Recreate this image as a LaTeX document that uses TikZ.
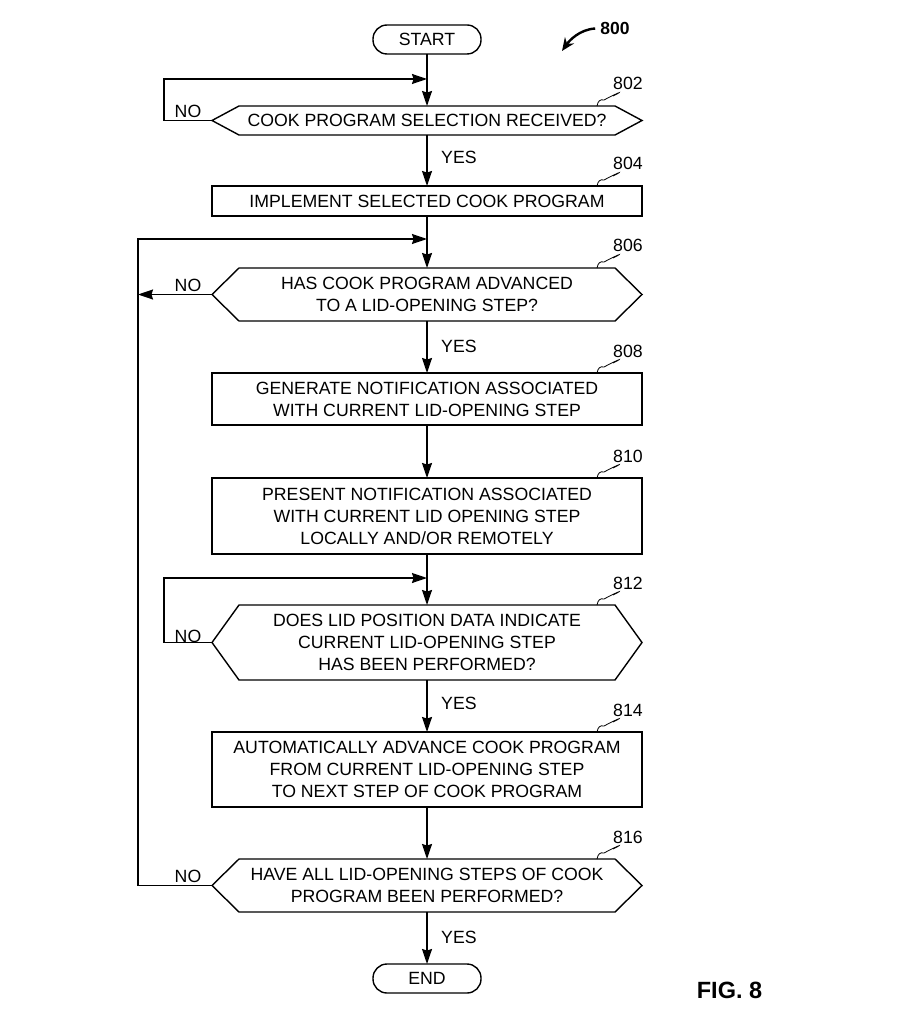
\documentclass[tikz,border=0pt]{standalone}
\usepackage{fontspec}
\setmainfont{Liberation Sans}
\usetikzlibrary{arrows.meta}
\tikzset{
  x=1pt, y=-1pt,
  lw/.style={line width=1.4pt},
  txt/.style={font=\fontsize{17.7}{22}\selectfont, align=center},
  tag/.style={font=\fontsize{17.7}{22}\selectfont, inner sep=0pt},
  procbox/.style={draw, lw, txt, minimum width=430pt, inner sep=0pt, outer sep=0pt},
  hexcore/.style={txt, minimum width=376pt, inner sep=0pt, outer sep=0pt},
  termbox/.style={draw, lw, txt, minimum width=108pt, minimum height=29pt, rounded corners=14pt, inner sep=0pt, outer sep=0pt},
  flow/.style={lw, -{Stealth[length=15pt,width=10pt,inset=1.5pt]}},
  leader/.style={line width=0.8pt},
}
\newcommand\hexdraw[1]{%
  \draw[lw] (#1.north west) -- (#1.north east) -- ([xshift=27pt]#1.east) -- (#1.south east) -- (#1.south west) -- ([xshift=-27pt]#1.west) -- cycle;
  \coordinate (#1L) at ([xshift=-27pt]#1.west);}
\begin{document}
\begin{tikzpicture}
\useasboundingbox[fill=white] (0,0) rectangle (915,1024);

% nodes
\node[termbox] (start) at (427,39.5) {START};
\node[hexcore, minimum height=29pt] (n802) at (427,120.5) {COOK PROGRAM SELECTION RECEIVED?};
\node[procbox, minimum height=30pt] (n804) at (427,201) {IMPLEMENT SELECTED COOK PROGRAM};
\node[hexcore, minimum height=53pt] (n806) at (427,294.5) {HAS COOK PROGRAM ADVANCED\\TO A LID-OPENING STEP?};
\node[procbox, minimum height=52pt] (n808) at (427,399) {GENERATE NOTIFICATION ASSOCIATED\\WITH CURRENT LID-OPENING STEP};
\node[procbox, minimum height=76pt] (n810) at (427,516) {PRESENT NOTIFICATION ASSOCIATED\\WITH CURRENT LID OPENING STEP\\LOCALLY AND/OR REMOTELY};
\node[hexcore, minimum height=75pt] (n812) at (427,642.5) {DOES LID POSITION DATA INDICATE\\CURRENT LID-OPENING STEP\\HAS BEEN PERFORMED?};
\node[procbox, minimum height=75pt] (n814) at (427,769.5) {AUTOMATICALLY ADVANCE COOK PROGRAM\\FROM CURRENT LID-OPENING STEP\\TO NEXT STEP OF COOK PROGRAM};
\node[hexcore, minimum height=53pt] (n816) at (427,885.5) {HAVE ALL LID-OPENING STEPS OF COOK\\PROGRAM BEEN PERFORMED?};
\node[termbox] (end) at (427,978.5) {END};

\hexdraw{n802}
\hexdraw{n806}
\hexdraw{n812}
\hexdraw{n816}

% reference numerals with leaders
\foreach \n in {n802,n804,n806,n808,n810,n812,n814,n816}{
  \draw[leader] ([xshift=170pt]\n.north) .. controls +(1,-5) and +(-4,-1) .. +(7,-6) .. controls +(11,-6) and +(14,-7) .. +(16,-10);
}
\node[tag] (l802) at (628,83) {802};
\node[tag] (l804) at (628,163) {804};
\node[tag] (l806) at (628,245) {806};
\node[tag] (l808) at (628,351) {808};
\node[tag] (l810) at (628,456) {810};
\node[tag] (l812) at (628,583) {812};
\node[tag] (l814) at (628,710) {814};
\node[tag] (l816) at (628,837) {816};

% join coordinates
\coordinate (j1) at (427,79);
\coordinate (j2) at (427,239);
\coordinate (j3) at (427,578);
\coordinate (c1a) at (164,120.5);
\coordinate (c1b) at (164,79);
\coordinate (c2a) at (138,885.5);
\coordinate (c2b) at (138,239);
\coordinate (c2m) at (138,294.5);
\coordinate (c3a) at (164,642.5);
\coordinate (c3b) at (164,578);

% connectors
\draw[flow] (start.south) -- (n802.north);
\draw[flow] (n802L) -- (c1a) -- (c1b) -- (j1);
\draw[flow] (n802.south) -- (n804.north);
\draw[flow] (n804.south) -- (n806.north);
\draw[flow] (n816L) -- (c2a) -- (c2b) -- (j2);
\draw[flow] (n806L) -- (c2m);
\draw[flow] (n806.south) -- (n808.north);
\draw[flow] (n808.south) -- (n810.north);
\draw[flow] (n810.south) -- (n812.north);
\draw[flow] (n812L) -- (c3a) -- (c3b) -- (j3);
\draw[flow] (n812.south) -- (n814.north);
\draw[flow] (n814.south) -- (n816.north);
\draw[flow] (n816.south) -- (end.north);

% branch labels
\node[tag] (no1) at (188,111.5) {NO};
\node[tag] (no2) at (188,285.5) {NO};
\node[tag] (no3) at (188,636) {NO};
\node[tag] (no4) at (188,876) {NO};
\node[tag, anchor=west] (yes1) at (441,157) {YES};
\node[tag, anchor=west] (yes2) at (441,346) {YES};
\node[tag, anchor=west] (yes3) at (441,703) {YES};
\node[tag, anchor=west] (yes4) at (441,937) {YES};

% figure number
\node[font=\fontsize{17.5}{20}\selectfont\bfseries, inner sep=0pt] (fignum) at (615,28.5) {800};
\coordinate (figarr) at (562,51);
\draw[line width=2.4pt, -{Stealth[length=13pt,width=11pt]}] (fignum.west) ++(-5,0) .. controls +(-16,1) and +(7,-10) .. (figarr);
\node[font=\fontsize{23.5}{26}\selectfont\bfseries, inner sep=0pt] (figlabel) at (729.5,990) {FIG. 8};
\end{tikzpicture}
\end{document}
